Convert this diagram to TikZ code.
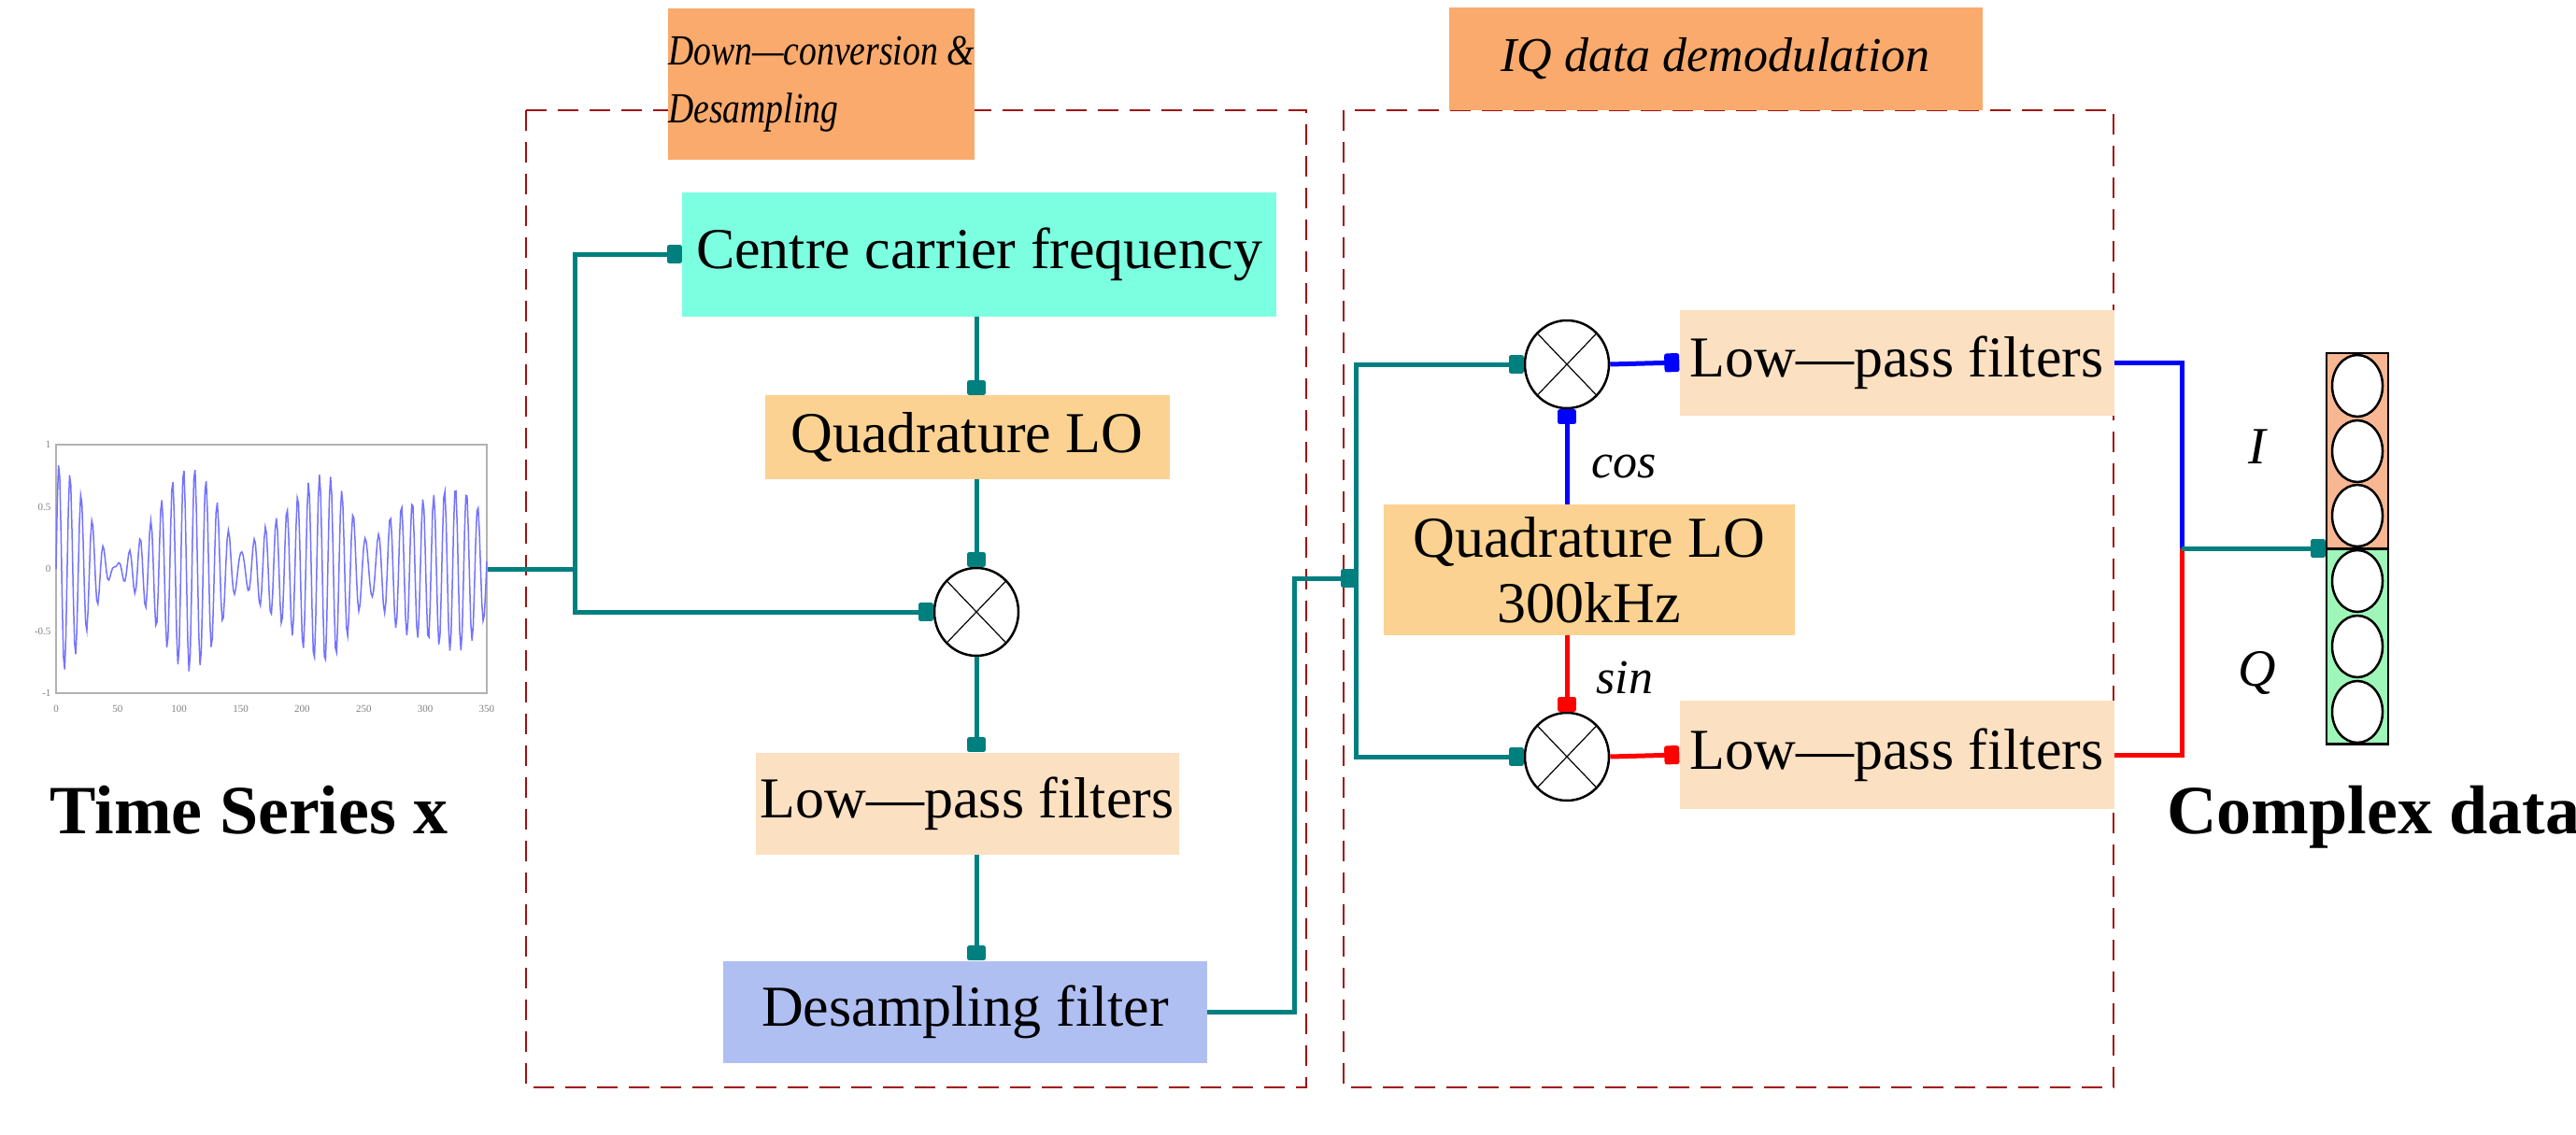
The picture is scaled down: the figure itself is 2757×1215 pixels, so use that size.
\documentclass[tikz,border=0pt]{standalone}
\usepackage{fontspec}
\setmainfont{Liberation Serif}
\usetikzlibrary{arrows.meta,shapes.geometric}
\definecolor{teal2}{HTML}{007F7F}
\definecolor{ttl}{HTML}{F9AA6C}
\definecolor{qlo}{HTML}{FBD292}
\definecolor{lpf}{HTML}{FCE0C2}
\definecolor{cyn}{HTML}{7CFFE0}
\definecolor{lav}{HTML}{AFBFF2}
\definecolor{dred}{HTML}{A01010}
\definecolor{arrI}{HTML}{F8B692}
\definecolor{arrQ}{HTML}{9EF7B8}
\begin{document}
\begin{tikzpicture}[x=1pt,y=-1pt,
  box/.style={draw=none,inner sep=0pt,align=center,font=\fontsize{62}{66}\selectfont},
  mix/.style={draw,ellipse,line width=2.5pt,minimum width=90pt,minimum height=94pt,inner sep=0pt,
    path picture={\draw[line width=1.2pt] (path picture bounding box.north west)--(path picture bounding box.south east)
      (path picture bounding box.north east)--(path picture bounding box.south west);}},
  con/.style={line width=5pt,-{Rectangle[length=16pt,width=20pt,round]}},
  lab/.style={font=\fontsize{52}{56}\selectfont\itshape},
  big/.style={font=\fontsize{74}{80}\selectfont\bfseries}]
\useasboundingbox (0,0) rectangle (2757,1215);
% dashed groups
\draw[dred,dashed,line width=2.5pt,dash pattern=on 22pt off 12pt] (563,118) rectangle (1398,1164);
\draw[dred,dashed,line width=2.5pt,dash pattern=on 22pt off 12pt] (1438,118) rectangle (2262,1164);
\node[box,fill=ttl,minimum width=316pt,minimum height=161pt,align=left,font=\fontsize{46}{62}\selectfont\itshape] (t1) at (879,90) {\scalebox{0.82}[1]{Down—conversion \&}\\\scalebox{0.82}[1]{Desampling}};
\node[box,fill=ttl,minimum width=571pt,minimum height=109pt,font=\fontsize{52}{56}\selectfont\itshape] (t2) at (1836,63) {IQ data demodulation};
% time series plot
\node[draw=gray!60,line width=2pt,minimum width=461pt,minimum height=266pt,inner sep=0pt] (plt) at (290.5,609) {};
\begin{scope}[shift={(60,609)}]
\draw[blue!55,line width=1.5pt] plot[domain=0:350,samples=351]
 ({\x*1.3171},{-133*(0.42*sin(10*mod(\x*3.9,36))+0.3*sin(10*mod(\x*4.25,36))+0.13*sin(10*mod(\x*3.6,36)))});
\foreach \v in {0,50,100,150,200,250,300,350}
  \node[font=\fontsize{11}{12}\selectfont,gray] (xt\v) at ({\v*1.3171},150) {\v};
\foreach \v/\n in {1/a,0.5/b,0/c,-0.5/d,-1/e}
  \node[font=\fontsize{11}{12}\selectfont,gray,anchor=east] (yt\n) at (-2,{-133*\v}) {\v};
\end{scope}
\node[big,anchor=north west] (ts) at (50,838) {Time Series x};
% left chain
\node[box,fill=cyn,minimum width=636pt,minimum height=133pt] (centre) at (1048,272) {Centre carrier frequency};
\node[box,fill=qlo,minimum width=433pt,minimum height=90pt] (qlo1) at (1035,468) {Quadrature LO};
\node[mix] (mix1) at (1045,655) {};
\node[box,fill=lpf,minimum width=453pt,minimum height=109pt] (lpf1) at (1035,860) {Low—pass filters};
\node[box,fill=lav,minimum width=518pt,minimum height=109pt] (des) at (1033,1083) {Desampling filter};
\coordinate (j1) at (615,609);
\coordinate (bend) at (1385,1083);
\coordinate (bus) at (1451,619);
\begin{scope}[teal2]
\draw[line width=5pt] (plt.east) -- (j1);
\draw[con] (j1) |- (centre.west);
\draw[con] (j1) |- (mix1.west);
\draw[con] (centre.south -| mix1) -- (qlo1.north -| mix1);
\draw[con] (qlo1.south -| mix1) -- (mix1.north);
\draw[con] (mix1.south) -- (lpf1.north -| mix1);
\draw[con] (lpf1.south -| mix1) -- (des.north -| mix1);
\draw[con] (des.east) -- (bend) |- (bus);
\end{scope}
% right part
\node[mix] (mixU) at (1677,390) {};
\node[mix] (mixL) at (1677,810) {};
\node[box,fill=lpf,minimum width=465pt,minimum height=113pt] (lpfU) at (2030,388) {Low—pass filters};
\node[box,fill=lpf,minimum width=465pt,minimum height=116pt] (lpfL) at (2030,808) {Low—pass filters};
\node[box,fill=qlo,minimum width=440pt,minimum height=140pt,font=\fontsize{62}{70}\selectfont] (qlo2) at (1701,610) {Quadrature LO\\300kHz};
\begin{scope}[teal2]
\draw[con] (bus) |- (mixU.west);
\draw[con] (bus) |- (mixL.west);
\end{scope}
\draw[con,blue] (mixU.east) -- (lpfU.west);
\draw[con,blue] (qlo2.north -| mixU) -- (mixU.south);
\draw[con,red] (qlo2.south -| mixL) -- (mixL.north);
\draw[con,red] (mixL.east) -- (lpfL.west);
\node[lab,anchor=west] (cos) at (1700,499) {cos};
\node[lab,anchor=west] (sin) at (1705,726) {sin};
\coordinate (out) at (2335,587);
\draw[blue,line width=5pt] (lpfU.east) -| (out);
\draw[red,line width=5pt] (lpfL.east) -| (out);
% array
\node[draw,line width=2.5pt,fill=arrI,minimum width=66pt,minimum height=209pt,inner sep=0pt] (arrI) at (2523,482.5) {};
\node[draw,line width=2.5pt,fill=arrQ,minimum width=66pt,minimum height=209pt,inner sep=0pt] (arrQ) at (2523,692) {};
\foreach \yy in {413,483,552,622,692,762}
  \draw[line width=2.5pt,fill=white] (2523,\yy) ellipse (27pt and 33pt);
\draw[con,teal2] (out) -- (out -| arrI.west);
\node[lab,font=\fontsize{56}{60}\selectfont\itshape] (I) at (2416,478) {I};
\node[lab,font=\fontsize{56}{60}\selectfont\itshape] (Q) at (2416,720) {Q};
\node[big,anchor=north west] (cd) at (2316,838) {Complex data};
\end{tikzpicture}
\end{document}
